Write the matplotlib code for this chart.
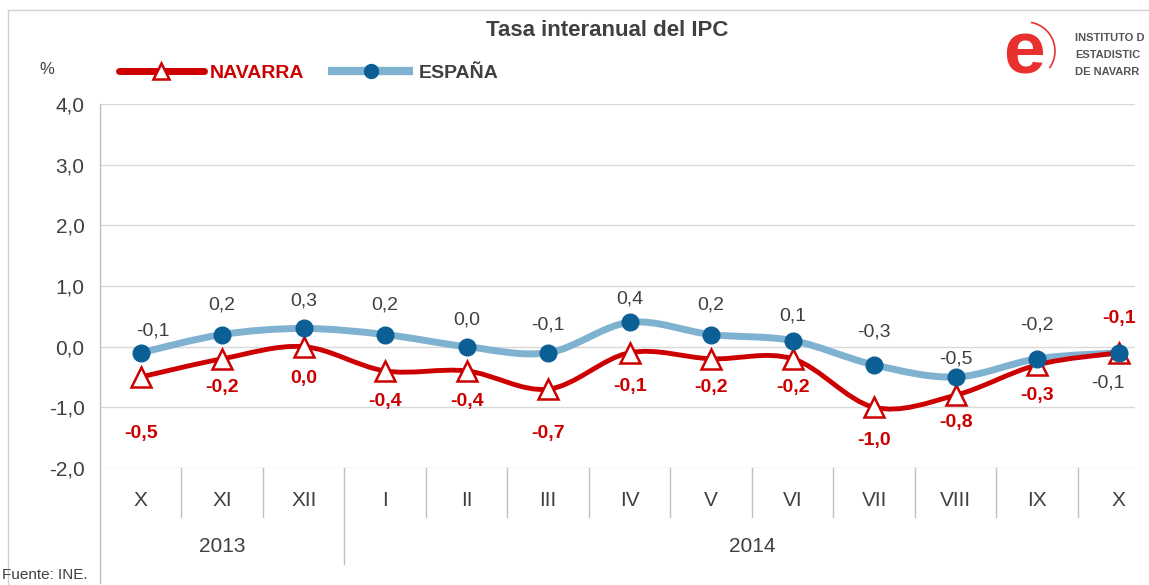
import matplotlib

matplotlib.use("Agg")
import matplotlib.pyplot as plt
from matplotlib.lines import Line2D
from matplotlib.path import Path
from matplotlib.patches import PathPatch, Arc, Rectangle
from matplotlib.transforms import blended_transform_factory

months = ["X", "XI", "XII", "I", "II", "III", "IV", "V", "VI", "VII", "VIII", "IX", "X"]
years = ["2013", "2014"]
year_spans = [(0, 2), (3, 12)]
navarra = [-0.5, -0.2, 0.0, -0.4, -0.4, -0.7, -0.1, -0.2, -0.2, -1.0, -0.8, -0.3, -0.1]
espana = [-0.1, 0.2, 0.3, 0.2, 0.0, -0.1, 0.4, 0.2, 0.1, -0.3, -0.5, -0.2, -0.1]
yticks = [-2, -1, 0, 1, 2, 3, 4]
logo_lines = ["INSTITUTO D", "ESTADISTIC", "DE NAVARR"]

# label offsets in points (dx, dy)
nav_off = [(0, -41), (0, -21), (0, -23), (0, -22), (0, -22), (0, -32), (0, -24),
           (0, -21), (0, -21), (0, -24), (0, -20), (0, -22), (0, 25)]
esp_off = [(9, 16), (0, 21), (0, 20), (0, 21), (0, 19), (0, 20), (0, 17),
           (0, 21), (0, 18), (0, 24), (0, 13), (0, 24), (-8, -22)]

RED = "#CC0000"
LBLUE = "#7FB2D0"
DBLUE = "#0B5F95"
GRAY = "#404040"

plt.rcParams["font.family"] = ["Liberation Sans", "DejaVu Sans"]


def smooth_path(ys):
    xs = list(range(len(ys)))
    n = len(xs)
    verts = [(xs[0], ys[0])]
    codes = [Path.MOVETO]
    for i in range(n - 1):
        a = i - 1 if i > 0 else i
        d = i + 2 if i + 2 < n else i + 1
        c1 = (xs[i] + (xs[i + 1] - xs[a]) / 6, ys[i] + (ys[i + 1] - ys[a]) / 6)
        c2 = (xs[i + 1] - (xs[d] - xs[i]) / 6, ys[i + 1] - (ys[d] - ys[i]) / 6)
        verts += [c1, c2, (xs[i + 1], ys[i + 1])]
        codes += [Path.CURVE4] * 3
    return Path(verts, codes)


def fmt(v):
    return f"{v:.1f}".replace(".", ",")


fig = plt.figure(figsize=(11.49, 5.85), dpi=100)
ax = fig.add_axes([100 / 1149, 1 - 468 / 585, 1035 / 1149, 364 / 585])

# outer chart border
fig.add_artist(Rectangle((8 / 1149, -0.1), 1.2, 1 - 10 / 585 + 0.1, transform=fig.transFigure,
                         fill=False, edgecolor="#D0D0D0", linewidth=1))

ax.set_xlim(-0.5, 12.2)
ax.set_ylim(-2, 4)
for v in yticks:
    ax.axhline(v, color="#D9D9D9", linewidth=1, zorder=0)
for s in ["top", "right", "bottom", "left"]:
    ax.spines[s].set_visible(False)
ax.set_yticks(yticks)
ax.set_yticklabels([fmt(v) for v in yticks], fontsize=15, color=GRAY)
ax.tick_params(axis="y", length=0, pad=11)
ax.set_xticks([])

trans = blended_transform_factory(ax.transData, ax.transAxes)
# left axis line extending down through category labels
ax.plot([-0.5, -0.5], [1, -0.316], transform=trans, color="#BFBFBF", lw=1, clip_on=False)
for i in range(len(months)):
    ax.text(i, -0.088, months[i], transform=trans, ha="center", va="center",
            fontsize=15, color=GRAY)
    if i > 0:
        long = any(i == s for s, e in year_spans)
        ax.plot([i - 0.5, i - 0.5], [0, -0.264 if long else -0.135], transform=trans,
                color="#BFBFBF", lw=1, clip_on=False)
for yr, (s, e) in zip(years, year_spans):
    ax.text((s + e) / 2, -0.217, yr, transform=trans, ha="center", va="center",
            fontsize=15, color=GRAY)

# lines
ax.add_patch(PathPatch(smooth_path(espana), fill=False, edgecolor=LBLUE, lw=5, zorder=2,
                       capstyle="butt"))
ax.add_patch(PathPatch(smooth_path(navarra), fill=False, edgecolor=RED, lw=3.5, zorder=3,
                       capstyle="butt"))
x = list(range(len(months)))
ax.plot(x, navarra, linestyle="none", marker="^", markersize=15, markerfacecolor="white",
        markeredgecolor=RED, markeredgewidth=1.8, zorder=4)
ax.plot(x, espana, linestyle="none", marker="o", markersize=12, markerfacecolor=DBLUE,
        markeredgecolor=DBLUE, zorder=5)

for i, v in enumerate(navarra):
    ax.annotate(fmt(v), (i, v), xytext=nav_off[i], textcoords="offset points",
                ha="center", va="center", fontsize=14, fontweight="bold", color=RED, zorder=6)
for i, v in enumerate(espana):
    kw = {}
    if i == len(espana) - 1:
        kw["bbox"] = dict(boxstyle="square,pad=0.2", facecolor="white", edgecolor="none")
    ax.annotate(fmt(v), (i, v), xytext=esp_off[i], textcoords="offset points",
                ha="center", va="center", fontsize=14, color=GRAY, zorder=6, **kw)

# title, unit, source
fig.text(607 / 1149, 1 - 31 / 585, "Tasa interanual del IPC", ha="center", va="center",
         fontsize=16, fontweight="bold", color=GRAY)
fig.text(47 / 1149, 1 - 70 / 585, "%", ha="center", va="center", fontsize=12, color=GRAY)
fig.text(2 / 1149, 1 - 575 / 585, "Fuente: INE.", ha="left", va="center", fontsize=11,
         color=GRAY)

# legend
handles = [
    Line2D([], [], color=RED, lw=5, marker="^", markersize=11, markerfacecolor="white",
           markeredgecolor=RED, markeredgewidth=1.8, solid_capstyle="round"),
    Line2D([], [], color=LBLUE, lw=6, marker="o", markersize=10, markerfacecolor=DBLUE,
           markeredgecolor=DBLUE, solid_capstyle="butt"),
]
fig.legend(handles, ["NAVARRA", "ESPAÑA"], loc="center left",
           bbox_to_anchor=(101 / 1149, 1 - 73 / 585), ncol=2, frameon=False,
           handlelength=4.4, handletextpad=0.3, columnspacing=1.2,
           prop={"size": 14, "weight": "bold"}, labelcolor=[RED, GRAY])

# logo
LOGO = "#E8312F"
fig.text(1024 / 1149, 1 - 73 / 585, "e", ha="center", va="baseline", fontsize=54,
         fontweight="bold", color=LOGO)
fig.add_artist(Arc((1026 / 1149, 1 - 51 / 585), 58 / 1149, 58 / 585, theta1=-55, theta2=85,
                   transform=fig.transFigure, color=LOGO, lw=1.2))
for j, t in enumerate(logo_lines):
    fig.text(1075 / 1149, 1 - (38 + 17 * j) / 585, t, ha="left", va="center", fontsize=8,
             fontweight="bold", color="#555555")

fig.savefig("out.png", dpi=100)
